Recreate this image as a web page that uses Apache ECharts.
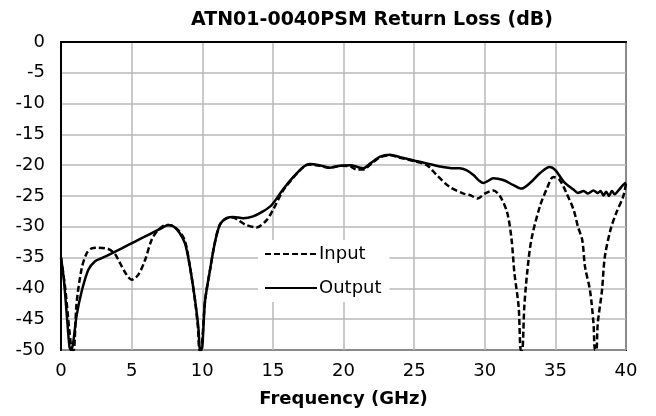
<!DOCTYPE html>
<html><head><meta charset="utf-8">
<script src="https://cdn.jsdelivr.net/npm/echarts@6/dist/echarts.min.js"></script>
<style>html,body{margin:0;padding:0;background:#fff}#c{width:656px;height:416px}</style>
</head><body><div id="c"></div>
<script>
const titleText = 'ATN01-0040PSM Return Loss (dB)';
const xAxisName = 'Frequency (GHz)';
const seriesNames = ['Input', 'Output'];
const xTicks = [0, 5, 10, 15, 20, 25, 30, 35, 40];
const yTicks = [0, -5, -10, -15, -20, -25, -30, -35, -40, -45, -50];

const inputFreq = [0,0.3,0.6,0.8,0.9,1.1,1.46,1.82,2.17,2.64,3.35,3.82,4.18,4.65,5.0,5.47,5.95,6.42,6.89,7.48,7.95,8.4,8.78,9.13,9.49,9.7,9.8,9.9,10.2,10.55,10.9,11.26,11.73,12.2,12.6,13.1,13.85,14.56,15.0,15.7,16.45,17.2,17.6,18.3,19.0,19.75,20.5,20.9,21.4,21.9,22.6,23.3,24.0,24.9,25.9,26.6,27.5,28.5,29.0,29.5,30.0,30.6,31.1,31.6,31.9,32.1,32.4,32.55,32.65,32.8,33.0,33.3,33.9,34.4,34.85,35.3,35.8,36.3,36.6,36.9,37.1,37.45,37.7,37.8,37.9,38.0,38.3,38.5,38.9,39.3,39.8,40];
const inputDb = [-35,-40,-47,-50,-50,-42.5,-36.8,-34.3,-33.5,-33.4,-33.6,-34.4,-35.9,-37.8,-38.6,-37.8,-35.4,-32.1,-30.5,-29.7,-29.9,-30.8,-32.3,-36.5,-42,-46.5,-50,-50,-42,-37,-32.5,-29.6,-28.6,-28.5,-29.0,-29.7,-30.1,-28.9,-27.3,-24.2,-22,-20.2,-19.9,-20.1,-20.4,-20.1,-20.2,-20.7,-20.7,-19.9,-18.7,-18.4,-18.8,-19.3,-20.0,-21.6,-23.5,-24.6,-24.9,-25.4,-24.6,-24.1,-25.1,-27.8,-32.1,-37.5,-43,-50,-50,-43,-37.5,-32.1,-26.7,-23.8,-21.9,-22.4,-24.6,-27.3,-30,-32.1,-36.5,-40.3,-45.7,-50,-50,-45.7,-40.3,-34.9,-30.5,-27.8,-25.1,-23];

const outputFreq = [0,0.2,0.4,0.6,0.7,0.85,1.1,1.46,1.93,2.41,2.88,3.59,4.3,5.24,6.18,7.13,7.6,8.0,8.4,8.78,9.13,9.49,9.72,9.85,9.95,10.2,10.55,10.9,11.26,11.73,12.2,12.9,13.6,14.3,14.9,15.7,16.45,17.2,17.6,18.3,19.0,19.75,20.5,21.0,21.4,21.9,22.6,23.3,24.0,24.9,25.9,26.8,27.8,28.2,28.7,29.2,29.6,29.9,30.2,30.6,31.3,32.0,32.6,33.2,33.9,34.6,35.0,35.6,36.3,36.6,37.0,37.3,37.7,38.0,38.2,38.4,38.6,38.8,39.0,39.2,39.5,39.8,40];
const outputDb = [-35,-38.5,-44,-49.5,-50,-49,-44.5,-40.5,-37,-35.6,-35.1,-34.3,-33.5,-32.4,-31.3,-30.2,-29.7,-30,-31,-32.7,-36.5,-41.9,-46.2,-50,-50,-42,-37,-32.5,-29.6,-28.6,-28.4,-28.6,-28.3,-27.5,-26.5,-24,-21.9,-20.2,-19.8,-20,-20.4,-20.1,-20,-20.3,-20.5,-19.7,-18.6,-18.3,-18.7,-19.2,-19.7,-20.2,-20.5,-20.5,-20.8,-21.6,-22.5,-22.9,-22.6,-22.1,-22.4,-23.2,-23.8,-22.9,-21.3,-20.3,-20.8,-22.7,-24,-24.5,-24.2,-24.6,-24.1,-24.5,-24.2,-24.9,-24.3,-25.0,-24.2,-24.7,-24.0,-23.2,-22.8];

const font = 'DejaVu Sans';
const chart = echarts.init(document.getElementById('c'), null, {renderer: 'canvas'});
chart.setOption({
  animation: false,
  backgroundColor: '#ffffff',
  title: {
    text: titleText, left: 186, top: 6,
    textStyle: {fontFamily: font, fontSize: 19, fontWeight: 'bold', color: '#000'}
  },
  grid: {left: 61, right: 30, top: 42, bottom: 66, show: true, borderColor: '#000', borderWidth: 2, backgroundColor: 'transparent'},
  legend: {
    orient: 'vertical', left: 258, top: 240,
    data: seriesNames,
    backgroundColor: '#ffffff',
    padding: [5, 8, 5, 6],
    itemWidth: 52, itemHeight: 14, itemGap: 16,
    itemStyle: {opacity: 0},
    textStyle: {fontFamily: font, fontSize: 18, color: '#000', padding: [0, 0, 0, -3]}
  },
  xAxis: {
    type: 'value', min: xTicks[0], max: xTicks[xTicks.length - 1], interval: 5,
    name: xAxisName, nameLocation: 'middle', nameGap: 40,
    nameTextStyle: {fontFamily: font, fontSize: 18, fontWeight: 'bold', color: '#000'},
    axisLine: {show: true, lineStyle: {color: '#000', width: 2}},
    axisTick: {show: false},
    axisLabel: {fontFamily: font, fontSize: 18, color: '#000', margin: 12},
    splitLine: {show: true, lineStyle: {color: '#b8b8b8', width: 1.5}}
  },
  yAxis: {
    type: 'value', min: yTicks[yTicks.length - 1], max: yTicks[0], interval: 5,
    axisLine: {show: true, lineStyle: {color: '#000', width: 2}},
    axisTick: {show: false},
    axisLabel: {fontFamily: font, fontSize: 18, color: '#000', margin: 16},
    splitLine: {show: true, lineStyle: {color: '#b8b8b8', width: 1.5}}
  },
  series: [
    {
      name: seriesNames[0], type: 'line', symbol: 'none', smooth: 0.3, clip: true,
      data: inputFreq.map((f, i) => [f, inputDb[i]]),
      lineStyle: {color: '#000', width: 2.5, type: [6, 3]},
      itemStyle: {color: '#000'}, z: 3
    },
    {
      name: seriesNames[1], type: 'line', symbol: 'none', smooth: 0.3, clip: true,
      data: outputFreq.map((f, i) => [f, outputDb[i]]),
      lineStyle: {color: '#000', width: 2.5, type: 'solid'},
      itemStyle: {color: '#000'}, z: 2
    }
  ]
});
</script></body></html>
